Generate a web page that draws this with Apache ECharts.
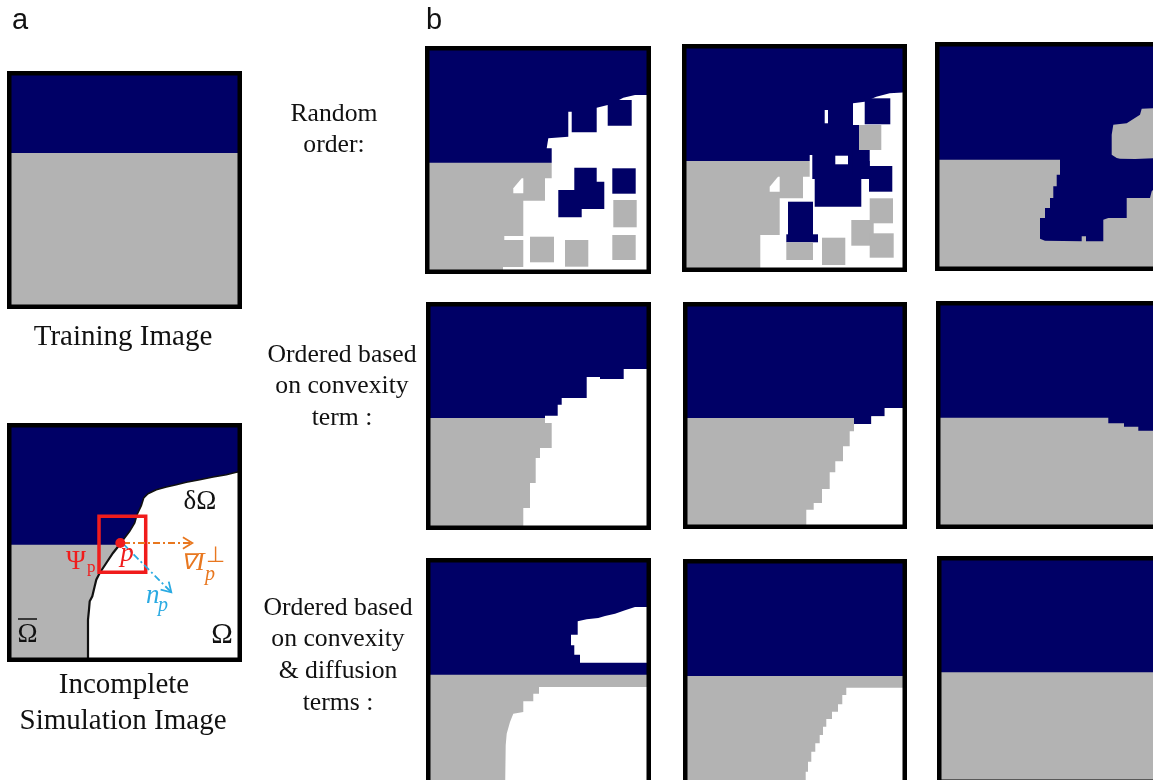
<!DOCTYPE html>
<html><head><meta charset="utf-8">
<script src="https://cdn.jsdelivr.net/npm/echarts@6.0.0/dist/echarts.min.js"></script>
<style>html,body{margin:0;padding:0;background:#fff}#c{width:1153px;height:780px}</style>
</head><body><div id="c"></div>
<script>
const NAVY = '#000066', GRAY = '#b3b3b3', WHITE = '#ffffff';
const RED = '#f01c1c', ORANGE = '#e8771f', BLUE = '#2aaae2';

// ---------- data (panel-local units, y grows downward) ----------
// a: training image
const trainingBoundary = 82;
// a: incomplete simulation image
const incompleteGrayTop = 121.7;
const incompleteGrayFront = [[113.3,120.7],[106,130],[99.3,140],[92.7,150],[89.3,156.7],[87.7,163.3],[85.3,173.3],[82.7,178.3],[82,186.7],[81,196.7],[81,239]];
const incompleteNavyFront = [[113.3,120.7],[122.7,108.3],[127.7,100],[130,91.7],[134.3,82.7],[136.7,75],[141,70.7],[149.3,66.7],[159.3,64],[169.3,61.7],[179.3,59.3],[192.7,56.7],[206,54],[219.3,51.7],[229.3,49.3],[235,48.5]];
const patchPsi = [92,93.3,138.7,149.3];
const pointP = [113.3,120];
const isophoteArrow = [[116,120],[185.3,120]];
const normalArrow = [[116,120.7],[164.3,169.3]];

// b, random order
const rand1NavyTop = 116.7;
const rand1White = [[226,49],[226,228],[78,228],[78,221],[98.3,221],[98.3,194],[79.3,194],[79.3,190],[98.3,190],[98.3,154.7],[120,154.7],[120,132.3],[126.7,132.3],[126.7,102.3],[121.7,102.3],[123.3,92.3],[143.3,90.7],[143.3,65.7],[146.7,65.7],[146.7,86.3],[171.7,86.3],[171.7,61.7],[182.7,59],[182.7,79.7],[206.7,79.7],[206.7,54],[194,54],[198.3,51.7],[210,49]];
const rand1Notch = [[96.7,132.3],[88.3,142.3],[88.3,147.3],[98.3,147.3],[98.3,132.3]];
const rand1NavyCross = [[149.3,121.7],[171.7,121.7],[171.7,135.7],[179.3,135.7],[179.3,163],[156.7,163],[156.7,171.3],[133.3,171.3],[133.3,144],[149.3,144]];
const rand1NavyBlocks = [[187.3,122.3,210.7,147.7]];
const rand1GrayBlocks = [[188.3,154,211.7,181.3],[187.3,189,210.7,214],[105,190.7,129,216.3],[140,194,163.3,220.7]];

const rand2NavyTop = 117;
const rand2White = [[226,48.3],[226,228],[78.3,228],[78.3,191],[97.7,191],[97.7,154.3],[121,154.3],[121,132.7],[127.7,132.7],[127.7,111],[130.3,111],[130.3,117],[171,117],[171,59.3],[182.7,57.7],[194.3,52.7],[207.7,49.3]];
const rand2NavyBlocks = [[130.3,117,187.7,135],[170.3,81,187.7,135],[182.7,54.3,208.3,80.3],[187,122,210.3,147.7],[132.7,131,179.3,162.7],[106,157.7,131,191],[104.3,190.3,136,198.3]];
const rand2WhiteHoles = [[142.7,66,146,79.3],[153.3,111.7,166,120.3]];
const rand2GrayBlocks = [[177,81,199.3,106],[104.3,198.3,131,216],[140,193.7,163.3,221],[169.3,176,191.7,201.7],[187.7,154.3,211,179.3],[187.7,189.3,211.7,213.7]];
const rand2Notch = [[96,132.7],[87.7,142.7],[87.7,147.7],[97.7,147.7],[97.7,132.7]];

const rand3Navy = [[0,0],[226,0],[226,140],[216.7,149.3],[215,156],[191.7,156],[191.7,176],[173.3,176],[168.3,177.7],[168.3,199.3],[151,199.3],[151,194.3],[146.7,194.3],[146.7,199.3],[110,198.7],[105,196.7],[105,176],[110,176],[110,166],[115,166],[115,156],[118.3,156],[118.3,144.3],[121.7,144.3],[121.7,132.7],[125,132.7],[125,117.7],[0,117.7]];
const rand3GrayBlob = [[176.7,92.7],[178.3,82.7],[191.7,81.3],[205,72.7],[206.7,66.7],[226,66],[226,116],[200,117],[185,116.7],[181.7,116],[176.7,112.7]];

// b, ordered by convexity term
const conv1NavyTop = 116;
const conv1White = [[226,67],[197.7,67],[197.7,77],[174,77],[174,75],[160.7,75],[160.7,96],[135.7,96],[135.7,102.7],[131.7,102.7],[131.7,113.7],[119,113.7],[119,121],[125.7,121],[125.7,146],[114,146],[114,156],[109.7,156],[109.7,181],[104,181],[104,206],[97.3,206],[97.3,228],[226,228]];
const conv2Navy = [[0,0],[224,0],[224,106],[201.7,106],[201.7,114.3],[188.3,114.3],[188.3,122],[171,122],[171,116],[0,116]];
const conv2White = [[226,106],[201.7,106],[201.7,114.3],[188.3,114.3],[188.3,122],[171,122],[171,129.3],[166.7,129.3],[166.7,144.3],[160,144.3],[160,159.3],[152.3,159.3],[152.3,170.3],[146.7,170.3],[146.7,187],[139,187],[139,201],[130.7,201],[130.7,207.7],[123.3,207.7],[123.3,228],[226,228]];
const conv3Navy = [[0,0],[226,0],[226,129.7],[202.3,129.7],[202.3,125.7],[188,125.7],[188,122.3],[172.3,122.3],[172.3,116.7],[0,116.7]];

// b, ordered by convexity & diffusion terms
const diff1NavyTop = 116.7;
const diff1WhiteHole = [[226,49],[209,49],[199,52.3],[189,55.7],[179,58],[172.3,60],[160.7,61.3],[151.7,63.3],[151.7,76.7],[145,76.7],[145,87.3],[148.3,87.3],[148.3,96.7],[154,96.7],[154,104.7],[226,104.7]];
const diff1White = [[226,129],[113,129],[113,135.7],[107.3,135.7],[107.3,143.3],[97.3,143.3],[97.3,154],[87.3,155.7],[84,164],[80.7,175.7],[79.7,187.3],[79,240],[226,240]];
const diff2NavyTop = 117;
const diff2White = [[226,128.7],[163.3,128.7],[163.3,136],[159.3,136],[159.3,145.3],[155,145.3],[155,152.7],[149,152.7],[149,160],[143.3,160],[143.3,167.7],[140,167.7],[140,176],[136.7,176],[136.7,184.3],[132.3,184.3],[132.3,192.7],[128.3,192.7],[128.3,202.7],[125,202.7],[125,212.7],[122.7,212.7],[122.7,240],[226,240]];
const diff3NavyTop = 116.3;

// ---------- helpers ----------
const rectPts = r => [[r[0],r[1]],[r[2],r[1]],[r[2],r[3]],[r[0],r[3]]];
const poly = (pts, fill) => ({kind:'poly', pts, fill});
const rect = (r, fill) => poly(rectPts(r), fill);
const frame = {kind:'frame'};

const panels = [
  {left:7, top:71, w:235, h:238, items:[rect([0,0,235,238],NAVY), rect([0,trainingBoundary,235,238],GRAY), frame]},
  {left:7, top:423, w:235, h:239, items:[
    rect([0,0,235,239],NAVY),
    poly([[0,incompleteGrayTop],[113.3,incompleteGrayTop]].concat(incompleteGrayFront.slice(1)).concat([[0,239]]),GRAY),
    poly(incompleteNavyFront.concat([[235,239]]).concat(incompleteGrayFront.slice().reverse()),WHITE),
    {kind:'line', pts:incompleteGrayFront, color:'#111', width:2.2},
    {kind:'line', pts:incompleteNavyFront, color:'#111', width:1.6},
    {kind:'box', r:patchPsi, color:RED, width:3.5},
    {kind:'arrow', pts:isophoteArrow, color:ORANGE},
    {kind:'arrow', pts:normalArrow, color:BLUE},
    {kind:'dot', c:pointP, color:RED},
    frame]},
  {left:425, top:46, w:226, h:228, items:[
    rect([0,0,226,228],GRAY), rect([0,0,226,rand1NavyTop],NAVY), poly(rand1White,WHITE), poly(rand1Notch,WHITE),
    poly(rand1NavyCross,NAVY)].concat(rand1NavyBlocks.map(r=>rect(r,NAVY)), rand1GrayBlocks.map(r=>rect(r,GRAY)), [frame])},
  {left:682, top:44, w:225, h:228, items:[
    rect([0,0,225,228],GRAY), rect([0,0,225,rand2NavyTop],NAVY), poly(rand2White,WHITE)]
    .concat(rand2NavyBlocks.map(r=>rect(r,NAVY)), rand2WhiteHoles.map(r=>rect(r,WHITE)), rand2GrayBlocks.map(r=>rect(r,GRAY)), [poly(rand2Notch,WHITE), frame])},
  {left:935, top:42, w:226, h:229, items:[rect([0,0,226,229],GRAY), poly(rand3Navy,NAVY), poly(rand3GrayBlob,GRAY), frame]},
  {left:426, top:302, w:225, h:228, items:[rect([0,0,225,228],GRAY), rect([0,0,225,conv1NavyTop],NAVY), poly(conv1White,WHITE), frame]},
  {left:683, top:302, w:224, h:227, items:[rect([0,0,224,227],GRAY), poly(conv2Navy,NAVY), poly(conv2White,WHITE), frame]},
  {left:936, top:301, w:226, h:228, items:[rect([0,0,226,228],GRAY), poly(conv3Navy,NAVY), frame]},
  {left:426, top:558, w:225, h:228, items:[rect([0,0,225,240],GRAY), rect([0,0,225,diff1NavyTop],NAVY), poly(diff1WhiteHole,WHITE), poly(diff1White,WHITE), frame]},
  {left:683, top:559, w:224, h:228, items:[rect([0,0,224,240],GRAY), rect([0,0,224,diff2NavyTop],NAVY), poly(diff2White,WHITE), frame]},
  {left:937, top:556, w:226, h:228, items:[rect([0,0,226,240],GRAY), rect([0,0,226,diff3NavyTop],NAVY), frame]}
];

function draw(item, p, api){
  if (item.kind === 'poly') {
    return {type:'polygon', shape:{points:item.pts.map(q=>api.coord(q))}, style:{fill:item.fill, stroke:null}};
  }
  if (item.kind === 'line') {
    return {type:'polyline', shape:{points:item.pts.map(q=>api.coord(q))}, style:{stroke:item.color, lineWidth:item.width, fill:null}};
  }
  if (item.kind === 'box') {
    const a = api.coord([item.r[0],item.r[1]]), b = api.coord([item.r[2],item.r[3]]);
    return {type:'rect', shape:{x:a[0],y:a[1],width:b[0]-a[0],height:b[1]-a[1]}, style:{fill:null, stroke:item.color, lineWidth:item.width}};
  }
  if (item.kind === 'dot') {
    const c = api.coord(item.c);
    return {type:'circle', shape:{cx:c[0],cy:c[1],r:5}, style:{fill:item.color}};
  }
  if (item.kind === 'arrow') {
    const s = api.coord(item.pts[0]), e = api.coord(item.pts[1]);
    const ang = Math.atan2(e[1]-s[1], e[0]-s[0]), L = 11, A = 0.55;
    const h1 = [e[0]-L*Math.cos(ang-A), e[1]-L*Math.sin(ang-A)];
    const h2 = [e[0]-L*Math.cos(ang+A), e[1]-L*Math.sin(ang+A)];
    return {type:'group', children:[
      {type:'polyline', shape:{points:[s,e]}, style:{stroke:item.color, lineWidth:1.8, lineDash:[7,3,2,3], fill:null}},
      {type:'polyline', shape:{points:[h1,e,h2]}, style:{stroke:item.color, lineWidth:1.8, fill:null}}]};
  }
  if (item.kind === 'frame') {
    const a = api.coord([0,0]), b = api.coord([p.w,p.h]);
    return {type:'rect', shape:{x:a[0]+2.25,y:a[1]+2.25,width:b[0]-a[0]-4.5,height:b[1]-a[1]-4.5}, style:{fill:null, stroke:'#000', lineWidth:4.5}};
  }
}

const grid = [], xAxis = [], yAxis = [], series = [];
panels.forEach((p,i)=>{
  grid.push({left:p.left, top:p.top, width:p.w, height:p.h, show:false, containLabel:false, outerBoundsMode:'none'});
  xAxis.push({type:'value', gridIndex:i, min:0, max:p.w, show:false});
  yAxis.push({type:'value', gridIndex:i, min:0, max:p.h, inverse:true, show:false});
  series.push({type:'custom', xAxisIndex:i, yAxisIndex:i, coordinateSystem:'cartesian2d', clip:true, silent:true,
    data:p.items.map(()=>[0,0]), renderItem:(params, api)=>draw(p.items[params.dataIndex], p, api)});
});

const SERIF = '"Liberation Serif", "Times New Roman", serif';
const SANS = '"Liberation Sans", Arial, sans-serif';
function txt(text, x, y, size, opt){
  opt = opt || {};
  return {type:'text', x, y, z:100, silent:true, style:{text, fontSize:size, fontFamily:opt.family||SERIF,
    fontStyle:opt.italic?'italic':'normal', fill:opt.color||'#111',
    align:opt.align||'center', verticalAlign:'middle', textAlign:opt.align||'center', textVerticalAlign:'middle'}};
}
const rowLabels = [
  {x:334, lines:['Random','order:'], y0:114},
  {x:342, lines:['Ordered based','on convexity','term :'], y0:355},
  {x:338, lines:['Ordered based','on convexity','& diffusion','terms :'], y0:608}
];
const graphic = [
  txt('a', 12, 21, 29, {family:SANS, align:'left'}),
  txt('b', 426, 21, 29, {family:SANS, align:'left'}),
  txt('Training Image', 123, 337, 29),
  txt('Incomplete', 124, 685, 29),
  txt('Simulation Image', 123, 721, 29),
  txt('δΩ', 200, 502, 27),
  txt('Ω', 222, 635, 29),
  txt('Ω', 27.5, 635, 27),
  {type:'line', z:100, silent:true, shape:{x1:18, y1:619, x2:37, y2:619}, style:{stroke:'#111', lineWidth:1.5}},
  txt('Ψ', 76, 562, 27, {color:RED}),
  txt('p', 87, 568, 17, {color:RED, align:'left'}),
  txt('p', 127, 554, 27, {color:RED, italic:true}),
  txt('∇', 181, 563, 22, {color:ORANGE, italic:true, align:'left'}),
  txt('I', 196, 563, 26, {color:ORANGE, italic:true, align:'left'}),
  txt('⊥', 215, 556, 22, {color:ORANGE}),
  txt('p', 210, 575, 20, {color:ORANGE, italic:true}),
  txt('n', 146, 596, 27, {color:BLUE, italic:true, align:'left'}),
  txt('p', 158, 606, 20, {color:BLUE, italic:true, align:'left'})
];
rowLabels.forEach(r=>r.lines.forEach((l,k)=>graphic.push(txt(l, r.x, r.y0 + k*31.6, 25.7))));

const chart = echarts.init(document.getElementById('c'), null, {renderer:'canvas'});
chart.setOption({animation:false, backgroundColor:'#ffffff', grid, xAxis, yAxis, series, graphic});
</script></body></html>
